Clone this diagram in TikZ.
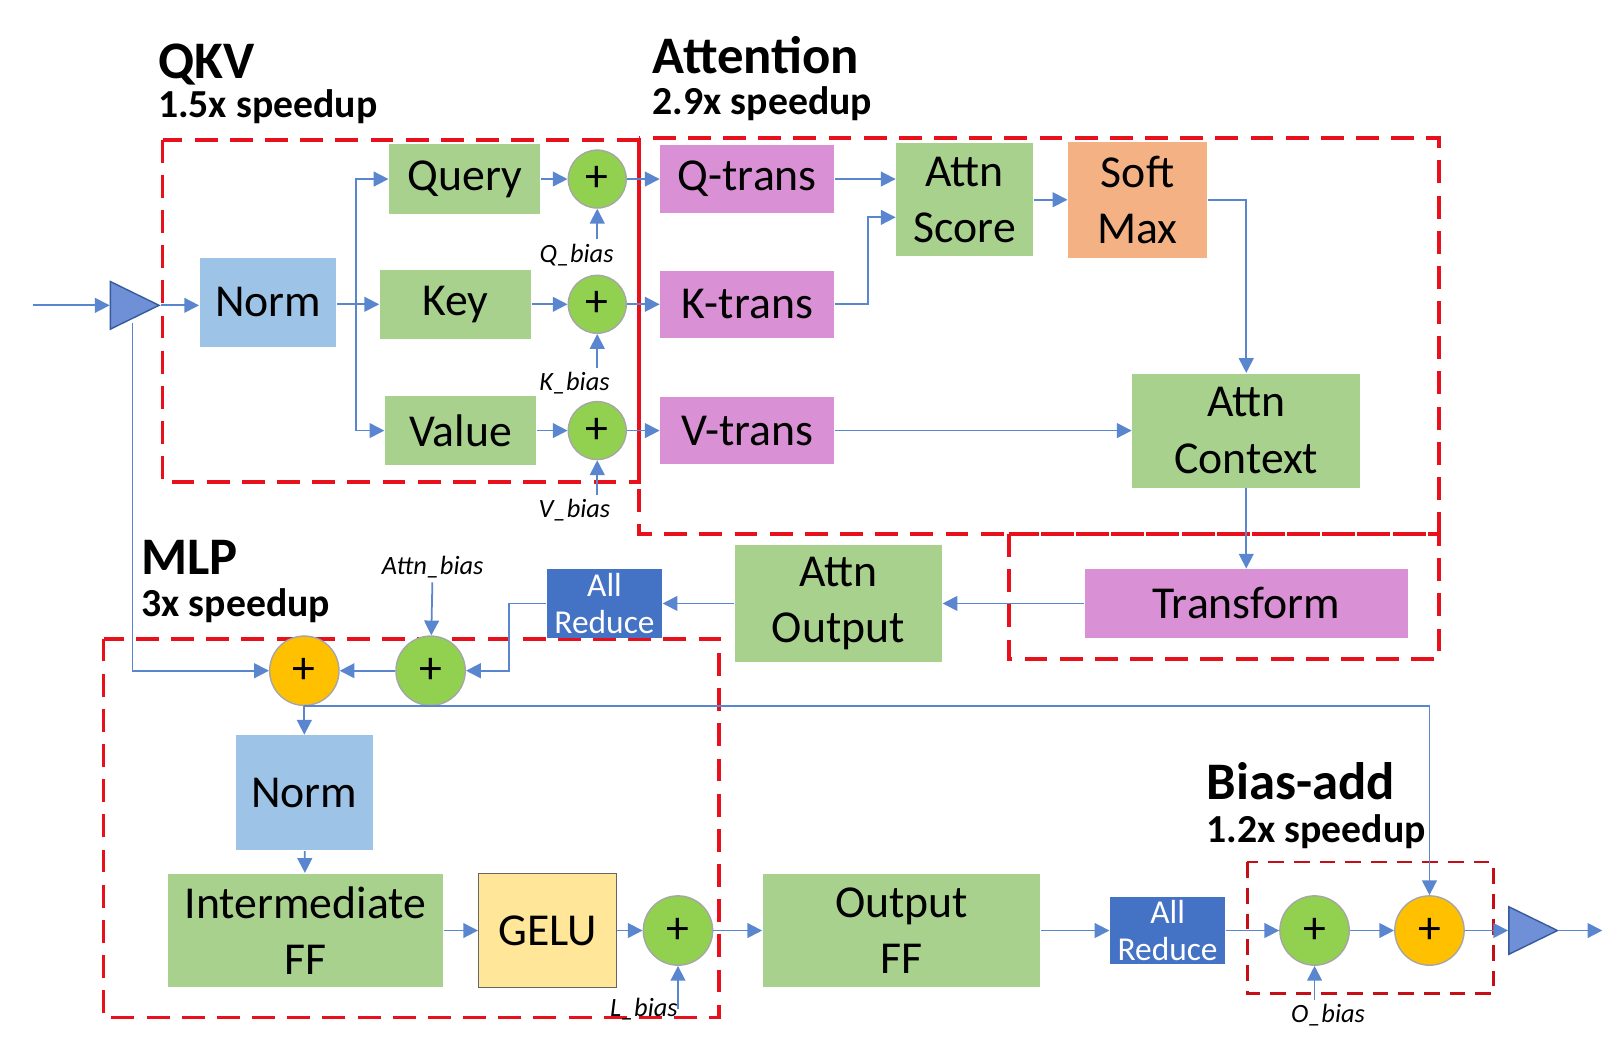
\documentclass[tikz,border=0pt]{standalone}
\usepackage{fontspec}
\setmainfont{Carlito}
\usetikzlibrary{arrows.meta, positioning, calc, shapes.geometric}

\newlength{\px}
\setlength{\px}{0.01035cm}

\definecolor{boxgreen}{HTML}{A9D18E}
\definecolor{boxblue}{HTML}{9DC3E6}
\definecolor{boxpink}{HTML}{DA90D4}
\definecolor{boxorange}{HTML}{F4B183}
\definecolor{boxyellow}{HTML}{FFE699}
\definecolor{reduceblue}{HTML}{4472C4}
\definecolor{plusgreen}{HTML}{92D050}
\definecolor{plusorange}{HTML}{FFC000}
\definecolor{linkblue}{HTML}{5A86CF}
\definecolor{dashred}{HTML}{E8101A}
\definecolor{bufblue}{HTML}{6F8FD6}

\begin{document}
\begin{tikzpicture}[
    x=\px, y=-\px,
    >={Triangle[length=4.2pt,width=4.2pt]},
    sz/.style 2 args={minimum width=#1\px, minimum height=#2\px},
    block/.style={rectangle, fill=boxgreen, inner sep=0pt, align=center, font=\fontsize{13}{16}\selectfont},
    normblock/.style={block, fill=boxblue},
    transblock/.style={block, fill=boxpink},
    plus/.style={circle, draw=gray!70, fill=plusgreen, inner sep=0pt, font=\fontsize{13}{14}\selectfont},
    resplus/.style={plus, fill=plusorange},
    reduce/.style={rectangle, fill=reduceblue, text=white, inner sep=0pt, align=center, font=\fontsize{9.5}{10.5}\selectfont},
    biaslabel/.style={inner sep=1pt, font=\itshape\fontsize{7.5}{9}\selectfont},
    buffer/.style={isosceles triangle, isosceles triangle stretches, draw=reduceblue!80!black, fill=bufblue, inner sep=0pt, minimum width=46\px, minimum height=47\px},
    conn/.style={linkblue, ->, line width=0.5pt},
    group/.style={dashred, line width=1.1pt, dash pattern=on 6.5pt off 3.5pt},
    smallgroup/.style={dashred!85!black, line width=0.7pt, dash pattern=on 4.5pt off 2.8pt},
    title/.style={anchor=base west, inner sep=0pt, font=\bfseries\fontsize{15}{18}\selectfont},
    speedup/.style={anchor=base west, inner sep=0pt, font=\bfseries\fontsize{11.3}{13}\selectfont}
]
\useasboundingbox (0,0) rectangle (1568,1013);

% ---------- Groups ----------
\draw[group] (157,135) rectangle (617,466);
\draw[group] (617,133) rectangle (1390,516);
\draw[group] (975,516) rectangle (1390,637);
\draw[group] (100,617) rectangle (695,983);
\draw[smallgroup] (1205,833) rectangle (1443,960);

% ---------- Titles ----------
\node[title] (qkvtitle) at (152,76) {QKV};
\node[speedup] (qkvspeed) at (152,114) {1.5x speedup};
\node[title] (atttitle) at (630,71) {Attention};
\node[speedup] (attspeed) at (630,111) {2.9x speedup};
\node[title] (mlptitle) at (136,555) {MLP};
\node[speedup] (mlpspeed) at (136,596) {3x speedup};
\node[title] (biastitle) at (1165,772) {Bias-add};
\node[speedup] (biasspeed) at (1165,814) {1.2x speedup};

% ---------- QKV ----------
\coordinate (in) at (32,295);
\node[buffer] (bufin) at (121,295) {};
\node[normblock, sz={132}{86}] (norm1) at (259,292) {Norm};
\node[block, sz={146}{67}] (query) at (449,173) {Query};
\node[block, sz={146}{67}] (key) at (440,294) {Key};
\node[block, sz={146}{67}] (value) at (445,416) {Value};

\foreach \n/\y in {q/173, k/294, v/416}
    \node[plus, minimum size=56\px] (add\n) at (577,\y) {+};

\node[biaslabel] (qbias) at (557,246) {Q\_bias};
\node[biaslabel] (kbias) at (555,370) {K\_bias};
\node[biaslabel] (vbias) at (555,493) {V\_bias};

% ---------- Attention ----------
\node[transblock, sz={168}{65}] (qtrans) at (722,173) {Q-trans};
\node[transblock, sz={168}{65}] (ktrans) at (722,294) {K-trans};
\node[transblock, sz={168}{65}] (vtrans) at (722,416) {V-trans};
\node[block, sz={132}{109}] (score) at (932,193) {Attn\\Score};
\node[block, fill=boxorange, sz={134}{112}] (softmax) at (1099,193) {Soft\\Max};
\node[block, sz={220}{110}] (context) at (1204,416) {Attn\\Context};
\node[transblock, sz={312}{66}] (transform) at (1204,583) {Transform};
\node[block, sz={200}{113}] (attnout) at (810,583) {Attn\\Output};
\node[reduce, sz={111}{66}] (reduce1) at (584,583) {All\\Reduce};

% ---------- MLP ----------
\node[biaslabel] (attnbias) at (418,548) {Attn\_bias};
\node[resplus, minimum size=67\px] (addres) at (294,648) {+};
\node[plus, minimum size=67\px] (addattn) at (416,648) {+};
\node[normblock, sz={132}{111}] (norm2) at (294,766) {Norm};
\node[block, sz={266}{110}] (interff) at (295,899) {Intermediate\\FF};
\node[block, fill=boxyellow, draw=black!60, sz={133}{110}] (gelu) at (529,899) {GELU};
\node[plus, minimum size=67\px] (addl) at (655,899) {+};
\node[biaslabel] (lbias) at (622,975) {L\_bias};

% ---------- Output / Bias-add ----------
\node[block, sz={268}{110}] (outff) at (871,899) {Output\\FF};
\node[reduce, sz={111}{64}] (reduce2) at (1128,899) {All\\Reduce};
\node[plus, minimum size=67\px] (addo) at (1270,899) {+};
\node[resplus, minimum size=67\px] (addfin) at (1381,899) {+};
\node[biaslabel] (obias) at (1283,981) {O\_bias};
\node[buffer] (bufout) at (1472,899) {};
\coordinate (out) at (1548,899);

% ---------- Connections ----------
\draw[conn] (in) -- (bufin.west);
\draw[conn] (bufin.apex) -- (bufin.apex -| norm1.west);
\draw[conn] (norm1.east |- key) -- (key.west);
\coordinate (split) at (344,294);
\draw[conn] (split) |- (query.west);
\draw[conn] (split) |- (value.west);

\foreach \n in {query/q, key/k, value/v} {
    \foreach \a/\b in \n {
        \draw[conn] (\a) -- (add\b);
        \draw[conn] (\b bias.north -| add\b) -- (add\b.south);
        \draw[conn] (add\b) -- (\b trans);
    }
}

\draw[conn] (qtrans.east) -- (qtrans.east -| score.west);
\draw[conn] (ktrans.east) -- ++(32,0) |- ($(score.west)+(0,17)$);
\draw[conn] (score) -- (softmax);
\draw[conn] (softmax.east) -| (context.north);
\draw[conn] (vtrans) -- (context);
\draw[conn] (context) -- (transform);
\draw[conn] (transform) -- (attnout);
\draw[conn] (attnout) -- (reduce1);
\draw[conn] (reduce1.west) -- ++(-36,0) |- (addattn.east);
\draw[conn] (attnbias) -- (addattn);
\draw[conn] (addattn) -- (addres);
\draw[conn] ([xshift=7\px]bufin.south) |- (addres.west);
\draw[conn] (addres) -- (norm2);
\draw[conn] (addres.south) -| (addfin.north);

\draw[conn] (norm2) -- (interff);
\draw[conn] (interff) -- (gelu);
\draw[conn] (gelu) -- (addl);
\draw[conn] (lbias.east -| addl) -- (addl.south);
\draw[conn] (addl) -- (outff);
\draw[conn] (outff) -- (reduce2);
\draw[conn] (reduce2) -- (addo);
\draw[conn] (obias.north -| addo) -- (addo.south);
\draw[conn] (addo) -- (addfin);
\draw[conn] (addfin) -- (bufout.west);
\draw[conn] (bufout.apex) -- (out);

\end{tikzpicture}
\end{document}
